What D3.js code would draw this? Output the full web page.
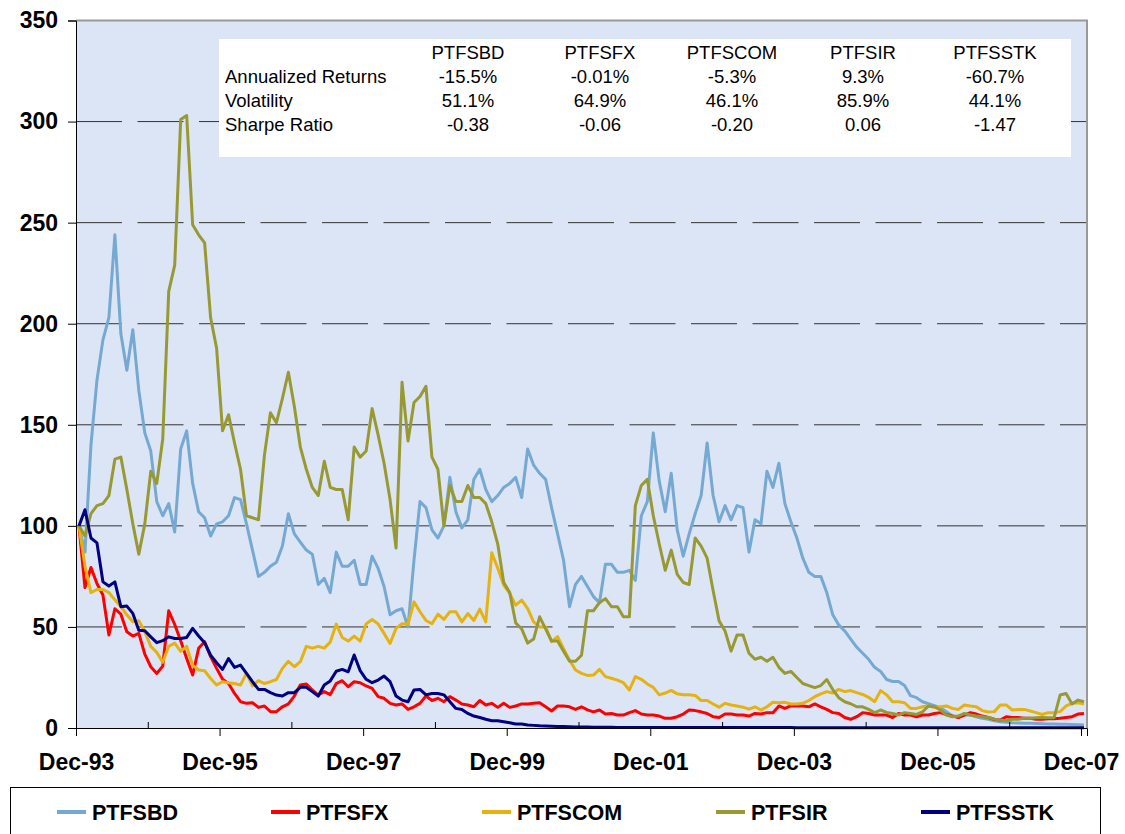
<!DOCTYPE html>
<meta charset="utf-8">
<script src="https://d3js.org/d3.v7.min.js"></script>
<style>
  body { margin: 0; background: #fff; }
  svg text { font-family: "Liberation Sans", Arial, sans-serif; }
</style>
<div id="my_dataviz"></div>
<script>
  // monthly index values, Dec-93 .. Dec-07 (start = 100)
  const seriesNames = ["PTFSBD", "PTFSFX", "PTFSCOM", "PTFSIR", "PTFSSTK"];
  const seriesColors = ["#76a9d1", "#ff0000", "#e5b20f", "#999933", "#000080"];

  const ptfsbd = [100,87,140,172,192,203,244,195,177,197,167,146,137,112,105,111,97,138,147,121,
    107,104,95,101,102,105,114,113,101,88,75,77,80,82,90,106,96,92,88,86,
    71,74,67,87,80,80,83,71,71,85,79,70,56,58,59,50,83,112,109,98,
    94,100,124,107,99,103,123,128,118,112,115,119,121,124,114,138,130,126,123,109,
    96,83,60,71,75,70,65,62,81,81,77,77,78,73,105,112,146,122,107,126,
    98,85,96,106,115,141,115,102,110,103,110,109,87,103,101,127,119,131,111,102,
    94,84,77,75,75,67,56,51,48,44,40,37,34,30,28,24,23,23,21,16,
    15,13,12,11,10,8,6,5.6,6.4,6.4,5.6,4.8,4.3,3.6,3.1,2.8,2.6,2.5,2.4,2.3,
    2.2,2.1,2.0,2.0,1.9,1.8,1.7,1.6,1.5];

  const ptfsfx = [100,69.5,79.4,71.5,65.8,46,59,56.3,47.6,45.5,46.8,36.6,30.3,27,30.6,58,51.2,43.2,34.4,26.2,
    39.4,42.7,35.3,29.5,24.1,22,17.1,13,12.2,12.5,10.2,10.9,8.1,8.1,10.5,11.9,15.8,21.3,21.8,18.8,
    16.3,18,16.5,22,23.4,20.4,22.9,22.4,20.8,19.6,15.5,14.7,12.2,11.4,11.9,9.2,10.5,12.2,15.8,13.6,
    14.7,13,15.5,13.8,11.9,11.4,10.5,13.6,11.4,12.2,10.2,12.2,10.2,10.9,11.9,11.9,12.2,12.5,10.5,8.4,
    10.9,10.9,10.5,9.2,10.5,9,8,8.9,6.9,7.2,6.4,6.4,7.6,8.6,6.9,6.4,6.4,5.9,4.8,4.8,
    5.6,6.9,8.9,8.6,8,7.2,5.6,5.2,6.9,6.9,6.4,6.4,5.9,7.2,6.9,7.6,7.6,10.9,9.7,10.9,
    10.9,10.9,10.5,11.9,10.5,9.2,7.6,7.2,5.2,4.3,5.6,7.6,7.2,6.4,6.4,6.4,5.2,7.2,6.4,6.4,
    5.6,6.4,6.4,7.2,7.6,6.7,5.9,5.2,6.4,7.6,6.9,5.9,5.2,4.3,3.9,5.6,5.2,5.2,4.8,4.8,
    4.3,4.3,4.6,4.6,4.8,5.2,5.6,6.9,7.2];

  const ptfscom = [100,80,67,68.5,68.5,67,63.4,60,56,52.6,53.1,47.7,40.4,37.4,32.5,40.4,42,37.9,40.4,31.1,
    28.7,28.3,24.5,21.3,22.9,22.4,22,21.3,27,20.8,23.4,22,22.9,24,29.5,33,30.3,32.8,40.4,39.5,
    40.4,39.5,42.5,51.4,44.8,43,45.5,43,51.5,53.7,51.5,46.8,41.8,49.3,51.6,51.4,62.4,57.5,53.2,51.6,
    56.3,53.7,57.5,57.5,52.5,56.6,53.2,58.8,52.5,86.7,79,70.7,66.6,60.8,63.3,59.1,52.5,50,50,42.7,
    45.2,39.3,33.6,28.7,27,26,26.2,29,25.4,24.6,23.7,22.4,18.8,25.4,24.1,21.8,20.1,16.4,17.3,18.6,
    16.9,16.4,16.4,16.1,13.6,13.6,11.9,10.3,12.2,11.4,10.9,10.3,9.3,10.5,8.9,10.5,12.7,12.5,12.7,11.9,
    11.9,12.2,13.6,15.5,16.9,18,17.3,19.1,18,18.5,17.5,16.6,15.2,13,18.5,16.4,13,13,12.5,9.7,
    9.7,10.5,10.9,10.2,10.5,10.9,9.7,9.2,11.4,10.9,10.5,8.6,7.9,8.1,11.4,11.4,8.9,9.2,9.2,8.4,
    7.6,6.7,7.6,7.6,8.1,10.9,12.2,12.5,11.9];

  const ptfsir = [100,95,106,110,111,115,133,134,118,101,86,101,127,121,143,216,229,301,303,249,
    244,240,203,188,147,155,141,128,105,104,103,135,156,151,163,176,159,139,128,119,
    115,132,119,118,118,103,139,134,137,158,145,131,113,89,171,142,161,164,169,134,
    128,100,120,112,112,120,114,114,111,102,91,72,67,52,49,42,44,55,49,43,
    43,38,33,33,36,58,58,62,64,60,60,55,55,110,120,123,105,91,78,88,
    76,72,71,94,90,84,68,53,48,38,46,46,37,34,35,33,35,30,27,28,
    25,22,21,20,21,24,19,15,13,12,10.5,10.5,9.2,7.6,8.9,7.7,7.2,6.4,7.6,7.2,
    6.7,8,10.9,10.5,8.9,6.4,5.6,5.9,7.2,6.4,5.9,5.6,5.2,4.4,3.9,3.6,4.3,4.3,4.8,4.8,
    5.1,5.2,5.1,5.1,16.3,17.1,11.9,13.8,13];

  const ptfsstk = [100,108,94,91.6,72.3,70.2,72.3,60,60.3,56.7,48.4,48.1,45.1,42.2,43.2,45.1,44.3,44.3,44.8,49.3,
    45.5,42.2,36,32.3,29,34.4,30,31.1,27,22.9,19.1,19.1,17.5,16.3,15.8,17.5,17.5,20.1,20.1,18,
    15.8,21.3,23.3,28.1,29,27.8,36.1,28.4,24.1,22.4,23.7,25.7,22.9,15.8,13.8,13,18.8,19.1,16.4,17.1,
    17.1,16.4,13,9.7,9.2,7.2,5.9,5.2,4.3,3.6,3.6,3.1,2.6,2,2,1.5,1.3,1.1,1.0,0.9,
    0.8,0.7,0.6,0.55,0.5,0.45,0.4,0.4,0.35,0.35,0.3,0.3,0.3,0.3,0.3,0.25,0.25,0.25,0.25,0.25,
    0.2,0.2,0.2,0.2,0.2,0.2,0.2,0.2,0.2,0.2,0.2,0.2,0.2,0.2,0.2,0.2,0.2,0.2,0.2,0.2,
    0.15,0.15,0.15,0.15,0.15,0.15,0.15,0.15,0.15,0.15,0.15,0.15,0.15,0.15,0.15,0.15,0.15,0.15,0.15,0.15,
    0.1,0.1,0.1,0.1,0.1,0.1,0.1,0.1,0.1,0.1,0.1,0.1,0.1,0.1,0.1,0.1,0.1,0.1,0.1,0.1,
    0.1,0.1,0.1,0.1,0.1,0.1,0.1,0.1,0.1];

  const seriesValues = [ptfsbd, ptfsfx, ptfscom, ptfsir, ptfsstk];

  // category axis: one band per month
  const months = d3.timeMonth.range(new Date(1993, 11, 1), new Date(2008, 0, 1));
  const xTickLabels = ["Dec-93", "Dec-95", "Dec-97", "Dec-99", "Dec-01", "Dec-03", "Dec-05", "Dec-07"];
  const yTicks = [0, 50, 100, 150, 200, 250, 300, 350];

  // summary table
  const statRows = ["Annualized Returns", "Volatility", "Sharpe Ratio"];
  const statValues = [
    ["-15.5%", "51.1%", "-0.38"],
    ["-0.01%", "64.9%", "-0.06"],
    ["-5.3%", "46.1%", "-0.20"],
    ["9.3%", "85.9%", "0.06"],
    ["-60.7%", "44.1%", "-1.47"]
  ];

  var W = 1125, H = 834;
  var plot = {left: 76, right: 1087, top: 20.5, bottom: 728};

  var svg = d3.select("#my_dataviz")
    .append("svg")
      .attr("width", W)
      .attr("height", H);

  var x = d3.scaleLinear()
    .domain([0, months.length])
    .range([plot.left, plot.right]);
  var y = d3.scaleLinear()
    .domain([0, 350])
    .range([plot.bottom, plot.top]);

  // plot area
  svg.append("rect")
    .attr("x", plot.left).attr("y", plot.top)
    .attr("width", plot.right - plot.left).attr("height", plot.bottom - plot.top)
    .attr("fill", "#dbe5f6");

  // dashed gridlines
  svg.append("g")
    .selectAll("line")
    .data(yTicks.filter(function(d) { return d > 0 && d < 350; }))
    .enter()
    .append("line")
      .attr("x1", plot.left).attr("x2", plot.right)
      .attr("y1", function(d) { return y(d); })
      .attr("y2", function(d) { return y(d); })
      .attr("stroke", "#333")
      .attr("stroke-width", 1)
      .attr("stroke-dasharray", "46,15.5");

  // top and right border
  svg.append("path")
    .attr("d", "M" + plot.left + "," + plot.top + "H" + plot.right + "V" + plot.bottom)
    .attr("fill", "none")
    .attr("stroke", "#999")
    .attr("stroke-width", 2);

  // stats box
  svg.append("rect")
    .attr("x", 219).attr("y", 39)
    .attr("width", 852).attr("height", 118)
    .attr("fill", "#fff");

  var colX = [468, 600, 732, 863, 995];
  var rowY = [59, 83, 107, 131];
  var stats = svg.append("g").style("font-size", "18.5px").attr("fill", "#000");
  stats.selectAll(".hdr")
    .data(seriesNames)
    .enter()
    .append("text")
      .attr("x", function(d, i) { return colX[i]; })
      .attr("y", rowY[0])
      .attr("text-anchor", "middle")
      .text(function(d) { return d; });
  stats.selectAll(".lbl")
    .data(statRows)
    .enter()
    .append("text")
      .attr("x", 225)
      .attr("y", function(d, i) { return rowY[i + 1]; })
      .text(function(d) { return d; });
  statValues.forEach(function(col, c) {
    col.forEach(function(v, r) {
      stats.append("text")
        .attr("x", colX[c])
        .attr("y", rowY[r + 1])
        .attr("text-anchor", "middle")
        .text(v);
    });
  });

  // lines
  var line = d3.line()
    .x(function(d, i) { return x(i + 0.5); })
    .y(function(d) { return y(d); });

  svg.append("g")
    .selectAll("path")
    .data(seriesValues)
    .enter()
    .append("path")
      .attr("fill", "none")
      .attr("stroke", function(d, i) { return seriesColors[i]; })
      .attr("stroke-width", 3)
      .attr("stroke-linejoin", "round")
      .attr("d", line);

  // Y axis
  var yAxis = svg.append("g")
    .attr("transform", "translate(" + plot.left + ",0)")
    .call(d3.axisLeft(y).tickValues(yTicks).tickSize(8).tickPadding(10));
  yAxis.select(".domain").attr("stroke", "#000");
  yAxis.selectAll(".tick line").attr("stroke", "#000");
  yAxis.selectAll("text")
    .style("font-size", "23px")
    .style("font-weight", "bold")
    .attr("fill", "#000");

  // X axis: labelled ticks point down, the in-between years point up
  var labelledIdx = d3.range(0, months.length, 24);
  var innerIdx = d3.range(12, months.length, 24);
  var xAxis = svg.append("g")
    .attr("transform", "translate(0," + plot.bottom + ")")
    .call(d3.axisBottom(x).tickValues(labelledIdx).tickSize(8).tickPadding(18)
      .tickFormat(function(d, i) { return xTickLabels[i]; }));
  xAxis.select(".domain").attr("stroke", "#000");
  xAxis.selectAll(".tick line").attr("stroke", "#000");
  xAxis.selectAll("text")
    .style("font-size", "23px")
    .style("font-weight", "bold")
    .attr("fill", "#000");
  svg.append("g")
    .attr("transform", "translate(0," + plot.bottom + ")")
    .call(d3.axisTop(x).tickValues(innerIdx).tickSize(6).tickFormat(""))
    .call(function(g) { g.select(".domain").remove(); })
    .selectAll(".tick line").attr("stroke", "#000");

  // legend
  svg.append("rect")
    .attr("x", 10.5).attr("y", 787.5)
    .attr("width", 1090).attr("height", 70)
    .attr("fill", "#fff")
    .attr("stroke", "#000");

  var legX = [57, 271, 482, 716, 921];
  var leg = svg.append("g")
    .selectAll("g")
    .data(seriesNames)
    .enter()
    .append("g")
      .attr("transform", function(d, i) { return "translate(" + legX[i] + ",812)"; });
  leg.append("line")
    .attr("x1", 0).attr("x2", 29)
    .attr("stroke", function(d, i) { return seriesColors[i]; })
    .attr("stroke-width", 4);
  leg.append("text")
    .attr("x", 35)
    .attr("dy", "0.36em")
    .style("font-size", "21.5px")
    .style("font-weight", "bold")
    .text(function(d) { return d; });
</script>
